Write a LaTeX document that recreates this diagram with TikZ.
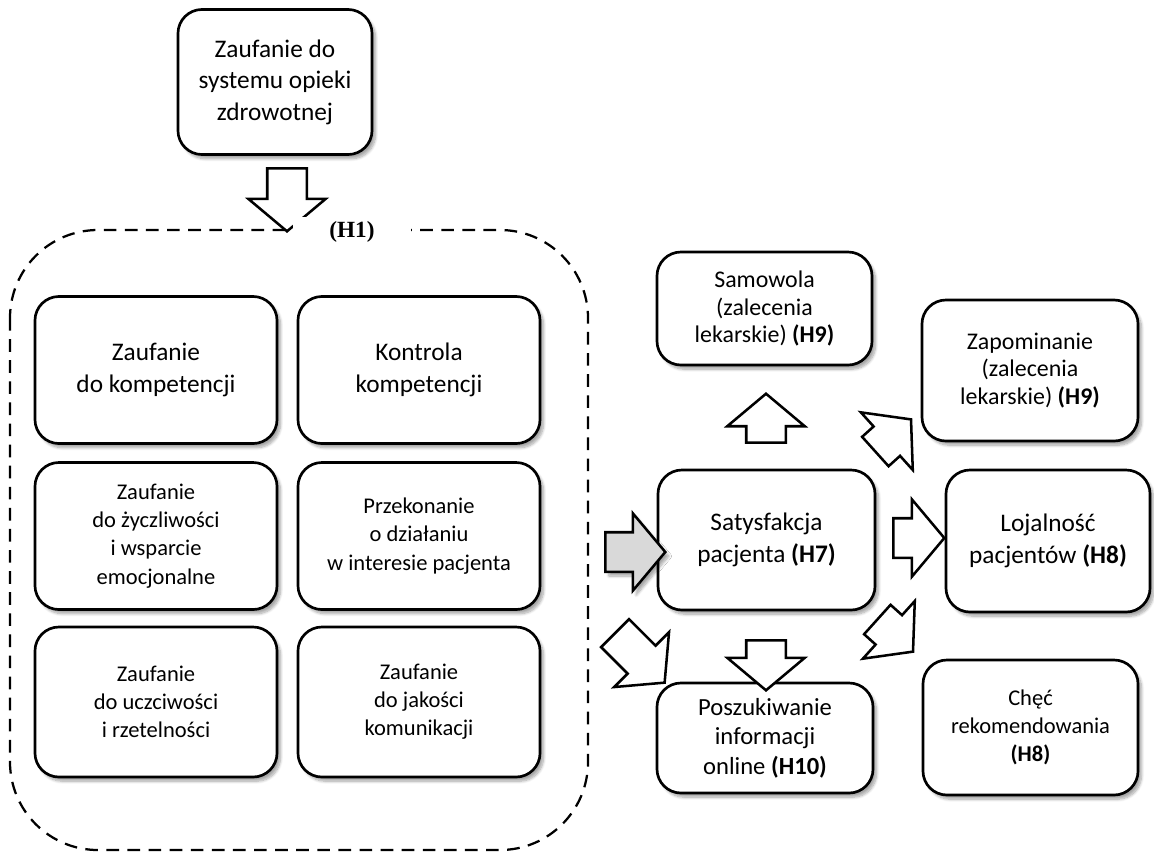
\documentclass[tikz,border=0pt]{standalone}
\usepackage{fontspec}
\setmainfont{Carlito}
\newfontfamily\timesfont{Liberation Serif}
\usetikzlibrary{shapes.arrows}
\usetikzlibrary{shadows.blur}

\tikzset{
  rbox/.style={draw, line width=1.9pt, rounded corners=0.6cm, fill=white, align=center,
    inner sep=2pt, font=\fontsize{18}{22.4}\selectfont,
    blur shadow={shadow xshift=2.5pt, shadow yshift=-3pt, shadow blur steps=8, shadow opacity=35}},
  rboxs/.style={rbox, font=\fontsize{16}{20}\selectfont},
  rboxm/.style={rbox, font=\fontsize{17}{19.5}\selectfont},
  blockarr/.style={shape=single arrow, draw, line width=1.8pt, fill=white, inner xsep=0pt,
    inner ysep=0.4625cm, single arrow head extend=0.475cm, single arrow tip angle=100},
  region/.style={line width=1.6pt, dash pattern=on 9pt off 6pt, rounded corners=2.2cm},
}

\begin{document}
\begin{tikzpicture}[x=0.025cm, y=-0.025cm]
  \useasboundingbox (0,0) rectangle (1154,851);

  % trust in the system
  \node[rbox, minimum width=4.85cm, minimum height=3.625cm] (sys) at (275,82)
    {Zaufanie do\\systemu opieki\\zdrowotnej};
  \node[blockarr, rotate=-90, minimum height=1.575cm] (a1) at (287,191.5) {};

  % dashed group (H1)
  \draw[region] (10,230) rectangle (588,850);
  \node[fill=white, inner xsep=0.9cm, font=\timesfont\fontsize{16.5}{20}\selectfont\bfseries] (h1) at (352,232) {(H1)};

  \node[rbox, minimum width=6.05cm, minimum height=3.675cm] (komp) at (156,370) {Zaufanie\\do kompetencji};
  \node[rbox, minimum width=6.05cm, minimum height=3.675cm] (kontr) at (419,370) {Kontrola\\kompetencji};
  \node[rboxs, minimum width=6.05cm, minimum height=3.675cm] (zycz) at (156,536) {Zaufanie\\do życzliwości\\i wsparcie\\emocjonalne};
  \node[rboxs, minimum width=6.05cm, minimum height=3.675cm] (inter) at (419,536) {Przekonanie\\o działaniu\\w interesie pacjenta};
  \node[rboxs, minimum width=6.05cm, minimum height=3.75cm] (uczc) at (156,702) {Zaufanie\\do uczciwości\\i rzetelności};
  \node[rboxs, minimum width=6.05cm, minimum height=3.75cm] (jak) at (419,702) {Zaufanie\\do jakości\\komunikacji};

  % right part
  \node[rbox, minimum width=5.425cm, minimum height=3.5cm] (sat) at (766.5,540) {Satysfakcja\\pacjenta \textbf{(H7)}};
  \node[rboxm, minimum width=5.375cm, minimum height=2.825cm] (samo) at (764.5,308.5) {Samowola\\(zalecenia\\lekarskie) \textbf{(H9)}};
  \node[rboxm, minimum width=5.4cm, minimum height=3.525cm] (zapo) at (1030,370.5) {Zapominanie\\(zalecenia\\lekarskie) \textbf{(H9)}};
  \node[rbox, minimum width=5.1cm, minimum height=3.55cm] (loj) at (1048,541) {Lojalność\\pacjentów \textbf{(H8)}};
  \node[rboxs, minimum width=5.375cm, minimum height=3.375cm] (rek) at (1030.5,727.5) {Chęć\\rekomendowania\\\textbf{(H8)}};
  \node[rbox, font=\fontsize{17.5}{21}\selectfont, minimum width=5.4cm, minimum height=2.75cm] (info) at (765,738) {Poszukiwanie\\informacji\\online \textbf{(H10)}};

  % block arrows
  \node[blockarr, fill=gray!30, minimum height=1.5cm,
    blur shadow={shadow xshift=2.5pt, shadow yshift=-3pt, shadow blur steps=8, shadow opacity=35}] (a2) at (627,552) {};
  \node[blockarr, rotate=90, minimum height=1.225cm] (a3) at (766,426.5) {};
  \node[blockarr, rotate=-90, minimum height=1.25cm] (a4) at (766,657) {};
  \node[blockarr, minimum height=1.275cm] (a5) at (910.5,538) {};
  \node[blockarr, rotate=42, minimum height=1.2cm] (a6) at (887,441) {};
  \node[blockarr, rotate=-42, minimum height=1.2cm] (a7) at (889,630) {};
  \node[blockarr, rotate=-45, minimum height=1.75cm] (a8) at (634,652) {};
\end{tikzpicture}
\end{document}
